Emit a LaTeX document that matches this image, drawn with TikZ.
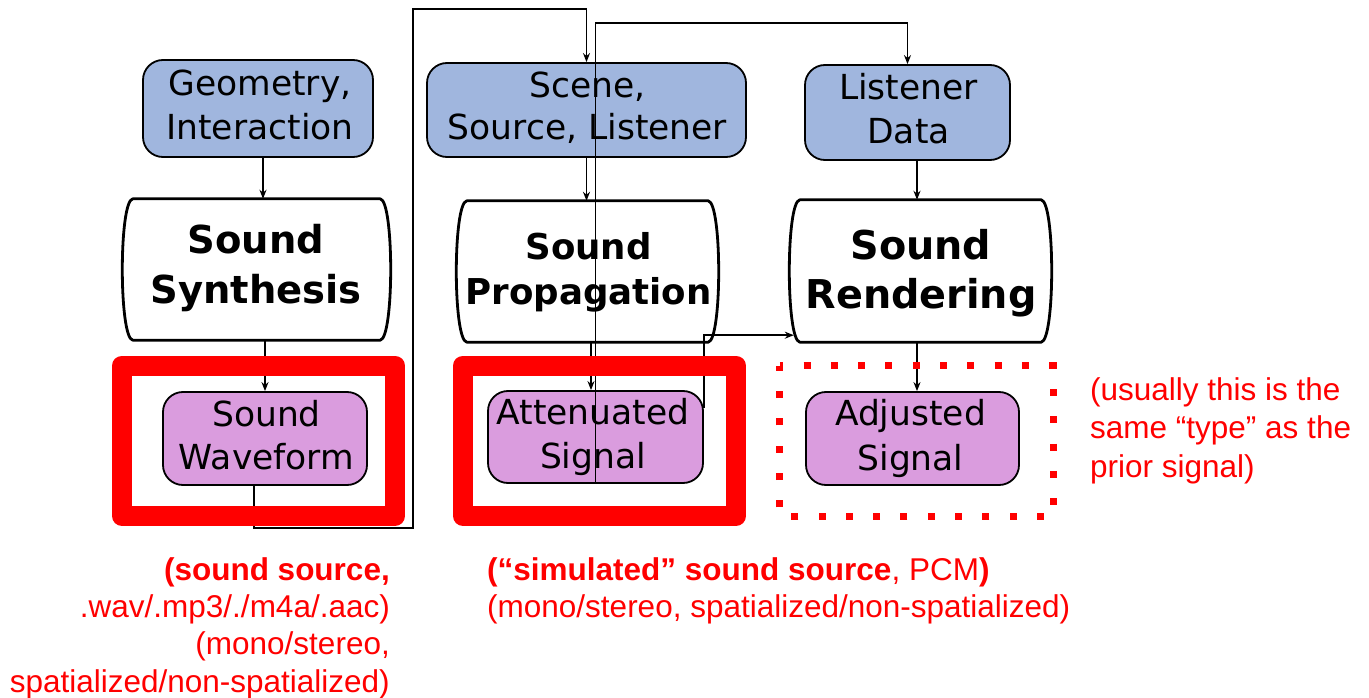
\documentclass[tikz,border=0pt]{standalone}
\usepackage{fontspec}
\setmainfont{DejaVu Sans}
\newfontfamily\arialfont{Liberation Sans}
\usetikzlibrary{calc,arrows.meta}
\definecolor{boxblue}{RGB}{160,182,222}
\definecolor{boxpurple}{RGB}{218,156,222}
\definecolor{sigred}{RGB}{255,0,0}
\tikzset{
  conn/.style={line width=1.5pt, draw=black},
  arr/.style={conn, -{Stealth[length=9pt,width=7pt]}},
  inbox/.style={draw=black, line width=1.8pt, fill=boxblue, rounded corners=20pt, inner sep=0pt},
  sigbox/.style={inbox, fill=boxpurple},
  shapebox/.style={draw=none, inner sep=0pt},
  barrelline/.style={draw=black, line width=2.8pt, fill=white, line join=round},
  lbl/.style={anchor=base, align=center, inner sep=0pt},
  redframe/.style={draw=sigred, line width=20pt, line join=round, inner sep=0pt},
  dotframe/.style={draw=sigred, line width=7pt, dash pattern=on 7pt off 20.29pt, dash phase=3.5pt},
  redtxt/.style={text=sigred, inner sep=0pt, font=\arialfont\fontsize{31.5}{37.3}\selectfont}
}
\newcommand{\barrelpath}[1]{%
  \draw[barrelline] ($(#1.north west)+(6,0)$) -- ($(#1.north east)+(-6,0)$)
    .. controls ($(#1.north east)+(8,2)$) and ($(#1.south east)+(8,-2)$) .. ($(#1.south east)+(-6,0)$)
    -- ($(#1.south west)+(6,0)$)
    .. controls ($(#1.south west)+(-8,-2)$) and ($(#1.north west)+(-8,2)$) .. cycle;}
\begin{document}
\begin{tikzpicture}[x=1pt,y=-1pt]
\fill[white] (0,0) rectangle (1369,698);
\useasboundingbox (0,0) rectangle (1369,698);

% input boxes (text nodes placed at the baseline of their last line)
\node[inbox, minimum width=230pt, minimum height=97pt] (geo) at (258,108.5) {};
\node[lbl, font=\fontsize{34.5}{44}\selectfont] (geot) at (260,140) {Geometry,\\Interaction};
\node[inbox, minimum width=319pt, minimum height=94pt] (scene) at (586.5,110) {};
\node[lbl, font=\fontsize{34.5}{43}\selectfont] (scenet) at (587.5,140) {Scene,\\Source, Listener};
\node[inbox, minimum width=205pt, minimum height=95pt] (lis) at (907.5,112.5) {};
\node[lbl, font=\fontsize{34.5}{44}\selectfont] (list) at (908.5,144) {Listener\\Data};

% barrel-shaped stages
\node[shapebox, minimum width=259pt, minimum height=141pt] (syn) at (256.5,269.5) {};
\barrelpath{syn}
\node[lbl, font=\bfseries\fontsize{38.5}{50}\selectfont] (synt) at (256,303) {Sound\\Synthesis};
\node[shapebox, minimum width=253pt, minimum height=141pt] (prop) at (587.5,271.5) {};
\barrelpath{prop}
\node[lbl, font=\bfseries\fontsize{35.6}{45}\selectfont] (propt) at (588.5,304) {Sound\\Propagation};
\node[shapebox, minimum width=253pt, minimum height=142pt] (rend) at (920.5,271) {};
\barrelpath{rend}
\node[lbl, font=\bfseries\fontsize{39.7}{49}\selectfont] (rendt) at (921,308) {Sound\\Rendering};

% signal boxes
\node[sigbox, minimum width=204pt, minimum height=93pt] (wave) at (265,438.5) {};
\node[lbl, font=\fontsize{34.5}{43}\selectfont] (wavet) at (266.5,469) {Sound\\Waveform};
\node[sigbox, minimum width=215pt, minimum height=92pt] (attn) at (595.5,437) {};
\node[lbl, font=\fontsize{34.5}{44}\selectfont] (attnt) at (593,468) {Attenuated\\Signal};
\node[sigbox, minimum width=213pt, minimum height=93pt] (adj) at (912.5,438.5) {};
\node[lbl, font=\fontsize{34.5}{45}\selectfont] (adjt) at (910.5,470) {Adjusted\\Signal};

% connectors
\draw[arr] ($(geo.south)+(5,0)$) coordinate (g1) -- (g1 |- syn.north);
\draw[arr] (wave.north |- syn.south) -- (wave.north);
\draw[arr] ($(wave.south)+(-11,0)$) -- ++(0,42) -- ++(159,0) |- ($(scene.north)+(0,-53)$) -- (scene.north);
\draw[arr] (attn.south) |- ($(lis.north)+(0,-41)$) -- (lis.north);
\draw[arr] (scene.south) -- (scene.south |- prop.north);
\draw[arr] ($(prop.south)+(3.5,0)$) coordinate (p1) -- (p1 |- attn.north);
\draw[arr] ($(attn.north east)+(0,18)$) |- ($(rend.south west)+(0,-7)$);
\draw[arr] ($(lis.south)+(9.5,0)$) coordinate (l1) -- (l1 |- rend.north);
\draw[arr] ($(rend.south)+(-3.5,0)$) coordinate (r1) -- (r1 |- adj.north);

% highlight frames
\node[redframe, minimum width=273pt, minimum height=150.5pt] (fr1) at (258.5,440.75) {};
\node[redframe, minimum width=273pt, minimum height=150.5pt] (fr2) at (599.5,440.75) {};
\node[shapebox, minimum width=273pt, minimum height=150pt] (fr3) at (916.5,441) {};
\draw[dotframe] (fr3.north west) -- (fr3.north east) -- (fr3.south east) -- (fr3.south west) -- cycle;

% notes (anchored at the baseline of their last line)
\node[redtxt, anchor=base east, align=right] (srcnote) at (390,692)
  {\textbf{(sound source,}\\.wav/.mp3/./m4a/.aac)\\(mono/stereo,\\spatialized/non-spatialized)};
\node[redtxt, anchor=base west, align=left] (simnote) at (487,617.5)
  {\textbf{(“simulated” sound source}, PCM\textbf{)}\\(mono/stereo, spatialized/non-spatialized)};
\node[redtxt, anchor=base west, align=left, font=\arialfont\fontsize{31.5}{38.5}\selectfont] (typenote) at (1090,477)
  {(usually this is the\\same “type” as the\\prior signal)};
\end{tikzpicture}
\end{document}
